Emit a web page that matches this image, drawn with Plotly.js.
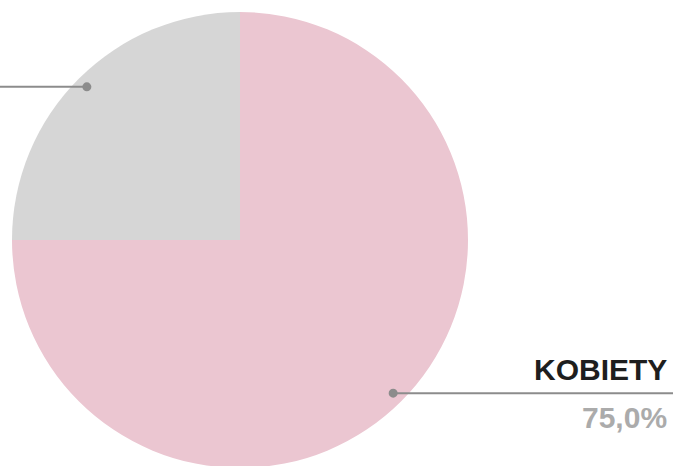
<!DOCTYPE html>
<html>
<head>
<meta charset="utf-8">
<script src="https://cdn.plot.ly/plotly-3.0.1.min.js"></script>
<style>
html,body{margin:0;padding:0;overflow:hidden;background:#fff;}
#chart{width:675px;height:480px;}
</style>
</head>
<body>
<div id="chart"></div>
<script>
const labels = ["MĘŻCZYŹNI", "KOBIETY"];
const values = [25.0, 75.0];
const valueLabels = ["25,0%", "75,0%"];
const colors = ["#d6d6d6", "#ebc6d1"];

const W = 675, H = 480;
const cx = 240, cy = 240, R = 228;

const trace = {
  type: "pie",
  labels: labels,
  values: values,
  sort: false,
  direction: "clockwise",
  rotation: 270,
  marker: {colors: colors, line: {width: 0}},
  textinfo: "none",
  hoverinfo: "label+percent",
  showlegend: false,
  domain: {x: [(cx - R) / W, (cx + R) / W], y: [1 - (cy + R) / H, 1 - (cy - R) / H]}
};

// leader dots at slice mid-angle (gray slice spans 9 -> 12 o'clock, then pink clockwise)
const total = values.reduce((a, b) => a + b, 0);
let cum = 0;
const shapes = [];
const annotations = [];
const lineColor = "#8c8c8c";
values.forEach((v, i) => {
  const mid = (cum + v / 2) / total;
  cum += v;
  const ang = Math.PI - mid * 2 * Math.PI; // start at 9 o'clock, clockwise
  const px = cx + 0.95 * R * Math.cos(ang);
  const py = cy - 0.95 * R * Math.sin(ang);
  const xp = px / W, yp = 1 - py / H;
  const dotR = 4.5;
  const endX = px < cx ? 0 : 673;
  shapes.push({type: "line", xref: "paper", yref: "paper", x0: xp, y0: yp, x1: endX / W, y1: yp,
    line: {color: lineColor, width: 2}});
  shapes.push({type: "circle", xref: "paper", yref: "paper",
    x0: (px - dotR) / W, x1: (px + dotR) / W, y0: 1 - (py + dotR) / H, y1: 1 - (py - dotR) / H,
    fillcolor: lineColor, line: {width: 0}});
  if (px > cx) {
    annotations.push({xref: "paper", yref: "paper", x: 669 / W, y: 1 - (py - 24) / H,
      text: labels[i], showarrow: false, xanchor: "right", yanchor: "middle",
      font: {family: "Liberation Sans, Arial, sans-serif", size: 30, color: "#1e1e1e", weight: "bold"}});
    annotations.push({xref: "paper", yref: "paper", x: 669 / W, y: 1 - (py + 24) / H,
      text: valueLabels[i], showarrow: false, xanchor: "right", yanchor: "middle",
      font: {family: "Liberation Sans, Arial, sans-serif", size: 30, color: "#ababab", weight: "bold"}});
  }
});

const layout = {
  width: W, height: H,
  margin: {l: 0, r: 0, t: 0, b: 0},
  paper_bgcolor: "#ffffff",
  plot_bgcolor: "#ffffff",
  shapes: shapes,
  annotations: annotations
};

Plotly.newPlot("chart", [trace], layout, {displayModeBar: false, staticPlot: true});
</script>
</body>
</html>
